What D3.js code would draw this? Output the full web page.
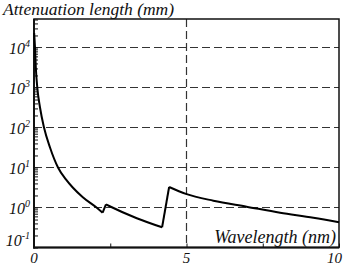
<!DOCTYPE html>
<html lang="en">
<head>
<meta charset="utf-8">
<title>Attenuation length</title>
<script src="https://d3js.org/d3.v7.min.js"></script>
<style>
  body { margin: 0; background: #fff; }
  svg { display: block; }
  .grid line {
    stroke: #333;
    stroke-width: 1.2;
    stroke-dasharray: 8, 4;
  }
  .axis line { stroke: #111; }
  .axis path { display: none; }
</style>
</head>
<body>
<script>

// wavelength (nm) against attenuation length (mm)
var wavelength  = [0.005, 0.033, 0.06, 0.108, 0.197, 0.328, 0.525, 0.787, 1.04, 1.27, 1.6, 2.05, 2.25,
                   2.36, 2.5, 3.37, 4.2,
                   4.43, 4.98, 5.88, 6.97, 8.07, 9.16, 10];
var attenuation = [23000, 10000, 3130, 1000, 316, 100, 31.6, 10, 5.1, 3.16, 1.81, 1.0, 0.74,
                   1.2, 1.06, 0.54, 0.32,
                   3.25, 2.19, 1.48, 1.05, 0.74, 0.556, 0.427];
// the absorption edges: index of the point just before each jump
var edgeIdx = [12, 16];

var xTickVals  = [0, 5, 10];
var xMinorVals = [2.5, 7.5];
var xGridVals  = [5];
var yGridVals  = [1, 10, 100, 1000, 10000];
var yLabelExp  = [-1, 0, 1, 2, 3, 4];

var yTitle = "Attenuation length (mm)";
var xTitle = "Wavelength (nm)";

var serif = "'Times New Roman', 'Liberation Serif', Tinos, 'Noto Serif', 'DejaVu Serif', serif";

var width = 343, height = 266;
var margin = {top: 19, right: 4, bottom: 18.5, left: 34};

var svg = d3.select("body").append("svg")
  .attr("width", width)
  .attr("height", height);

var x = d3.scaleLinear()
  .domain([0, 10])
  .range([margin.left, width - margin.right]);

// 40px per decade, 0.1 at the bottom edge
var y = d3.scaleLog()
  .domain([0.1, Math.pow(10, 4.7125)])
  .range([height - margin.bottom, margin.top]);

// dashed grid
var grid = svg.append("g").attr("class", "grid");
grid.selectAll("line.h")
  .data(yGridVals)
  .enter().append("line")
  .attr("class", "h")
  .attr("x1", x(0)).attr("x2", x(10))
  .attr("y1", function(d) { return y(d); })
  .attr("y2", function(d) { return y(d); });
grid.selectAll("line.v")
  .data(xGridVals)
  .enter().append("line")
  .attr("class", "v")
  .attr("x1", function(d) { return x(d); })
  .attr("x2", function(d) { return x(d); })
  .attr("y1", y.range()[1]).attr("y2", y.range()[0]);

// inside ticks, log minor ticks on the left
svg.append("g")
  .attr("class", "axis")
  .attr("transform", "translate(" + x(0) + ",0)")
  .call(d3.axisLeft(y).tickSizeInner(-4).tickFormat(""));

svg.append("g")
  .attr("class", "axis")
  .attr("transform", "translate(0," + y(0.1) + ")")
  .call(d3.axisBottom(x).tickValues(xTickVals.concat(xMinorVals)).tickSizeInner(-4).tickFormat(""));

// frame
svg.append("rect")
  .attr("x", x(0)).attr("y", y.range()[1])
  .attr("width", x(10) - x(0))
  .attr("height", y.range()[0] - y.range()[1])
  .attr("fill", "none")
  .attr("stroke", "#111")
  .attr("stroke-width", 1.5);
svg.append("line")
  .attr("x1", x(0)).attr("x2", x(0))
  .attr("y1", y.range()[1]).attr("y2", y.range()[0] + 1)
  .attr("stroke", "#111").attr("stroke-width", 2);
svg.append("line")
  .attr("x1", x(0) - 1).attr("x2", x(10))
  .attr("y1", y(0.1)).attr("y2", y(0.1))
  .attr("stroke", "#111").attr("stroke-width", 2);

// curve, split at the edges so the jumps stay sharp
var pts = wavelength.map(function(d, i) { return [d, attenuation[i]]; });
var cuts = [0];
edgeIdx.forEach(function(e) { cuts.push(e, e + 1); });
cuts.push(pts.length - 1);
var segments = [];
for (var i = 0; i < cuts.length - 1; i++) {
  segments.push(pts.slice(cuts[i], cuts[i + 1] + 1));
}

var line = d3.line()
  .x(function(d) { return x(d[0]); })
  .y(function(d) { return y(d[1]); })
  .curve(d3.curveMonotoneX);

svg.selectAll("path.curve")
  .data(segments)
  .enter().append("path")
  .attr("class", "curve")
  .attr("d", line)
  .attr("fill", "none")
  .attr("stroke", "#000")
  .attr("stroke-width", 2)
  .attr("stroke-linejoin", "round");

// y labels: 10 with superscript power
var yLab = svg.selectAll("text.ylab")
  .data(yLabelExp)
  .enter().append("text")
  .attr("class", "ylab")
  .attr("x", 30)
  .attr("y", function(d) { return Math.min(y(Math.pow(10, d)) + 6, 245.5); })
  .attr("text-anchor", "end")
  .attr("font-family", serif)
  .attr("font-style", "italic")
  .attr("font-size", 16)
  .attr("fill", "#111");
yLab.append("tspan").text("10");
yLab.append("tspan")
  .attr("dy", -7)
  .attr("font-size", 10)
  .text(function(d) { return d; });

// x labels
svg.selectAll("text.xlab")
  .data(xTickVals)
  .enter().append("text")
  .attr("class", "xlab")
  .attr("x", function(d) { return d == 10 ? width - 1 : x(d); })
  .attr("y", 263)
  .attr("text-anchor", function(d) { return d == 10 ? "end" : "middle"; })
  .attr("font-family", serif)
  .attr("font-style", "italic")
  .attr("font-size", 15)
  .attr("fill", "#111")
  .text(function(d) { return d; });

// titles
svg.append("text")
  .attr("x", 3)
  .attr("y", 15)
  .attr("font-family", serif)
  .attr("font-style", "italic")
  .attr("font-size", 17.5)
  .attr("fill", "#111")
  .text(yTitle);

svg.append("text")
  .attr("x", 336)
  .attr("y", 243)
  .attr("text-anchor", "end")
  .attr("font-family", serif)
  .attr("font-style", "italic")
  .attr("font-size", 18)
  .attr("fill", "#111")
  .text(xTitle);

</script>
</body>
</html>
